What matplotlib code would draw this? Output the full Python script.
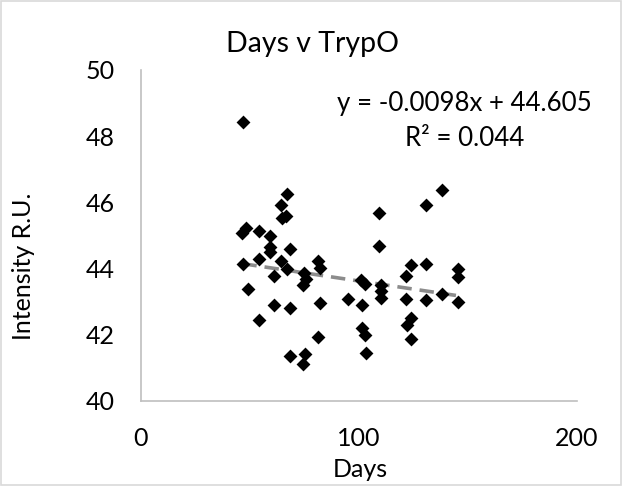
import matplotlib
matplotlib.use("Agg")
import matplotlib.pyplot as plt
import numpy as np
from matplotlib.patches import Rectangle

days = [46.9, 46.5, 48.3, 46.9, 48.9, 54.1, 54.1, 54.1, 59.3, 59.3, 59.3, 61.1, 61.1,
        64.4, 64.7, 66.5, 67.1, 64.4, 67.1, 68.4, 68.4, 68.4, 74.2, 75.3, 74.2, 74.7,
        75.7, 81.1, 82.0, 82.0, 81.1, 94.8, 100.8, 102.6, 101.2, 101.2, 102.6, 103.0,
        109.4, 109.4, 110.3, 110.3, 110.3, 121.6, 124.0, 121.6, 122.2, 124.0, 124.0,
        130.9, 130.9, 130.9, 138.0, 138.0, 145.3, 145.3, 145.3]
intensity = [48.42, 45.07, 45.22, 44.15, 43.37, 45.13, 44.30, 42.45, 44.98, 44.66, 44.50,
             43.79, 42.89, 45.93, 45.52, 45.60, 46.24, 44.24, 43.98, 44.60, 42.81, 41.37,
             41.12, 41.41, 43.49, 43.88, 43.69, 44.22, 44.03, 42.96, 41.93, 43.08, 43.66,
             43.54, 42.91, 42.22, 41.98, 41.44, 45.67, 44.69, 43.49, 43.32, 43.10, 43.79,
             44.11, 43.08, 42.29, 42.52, 41.88, 45.93, 44.13, 43.05, 46.37, 43.22, 43.98,
             43.76, 42.98]
trend_slope = -0.0098
trend_intercept = 44.605
r_squared = 0.044
x_ticks = [0, 100, 200]
y_ticks = [40, 42, 44, 46, 48, 50]

plt.rcParams['font.family'] = ['Lato', 'DejaVu Sans']

fig = plt.figure(figsize=(6.22, 4.86), dpi=100)
ax = fig.add_axes([141/622, 85/486, (577-141)/622, (401-70)/486])

ax.scatter(days, intensity, marker='D', s=50, color='black', zorder=3, linewidths=0)

xs = np.array([min(days), max(days)])
ax.plot(xs, trend_slope * xs + trend_intercept, color='#8c8c8c', lw=2.6,
        linestyle=(0, (4, 2.2)), zorder=2, solid_capstyle='round')

ax.set_xlim(0, 200)
ax.set_ylim(40, 50)
ax.set_xticks(x_ticks)
ax.set_yticks(y_ticks)
ax.tick_params(length=0, labelsize=18, colors='black')
ax.tick_params(axis='x', pad=19)
ax.tick_params(axis='y', pad=19)
for s in ['top', 'right']:
    ax.spines[s].set_visible(False)
for s in ['left', 'bottom']:
    ax.spines[s].set_color('#bfbfbf')
    ax.spines[s].set_linewidth(1.2)

fig.text(312/622, 1 - 44/486, 'Days v TrypO', fontsize=20.5, ha='center', va='center')
ax.set_xlabel('Days', fontsize=18, va='center')
ax.xaxis.set_label_coords((360-141)/436, (401-469)/331)
ax.set_ylabel('Intensity R.U.', fontsize=18, va='center')
ax.yaxis.set_label_coords((24-141)/436, 0.408)

ax.text((464-141)/436, (401-104)/331, f'y = {trend_slope}x + {trend_intercept}',
        transform=ax.transAxes, ha='center', va='center', fontsize=18.6)
ax.text((465-141)/436, (401-138)/331, f'R² = {r_squared}',
        transform=ax.transAxes, ha='center', va='center', fontsize=18.6)

fig.add_artist(Rectangle((0.002, 0.002), 0.996, 0.996, transform=fig.transFigure,
                         fill=False, edgecolor='#d9d9d9', lw=1.2))

fig.savefig('out.png', dpi=100)
